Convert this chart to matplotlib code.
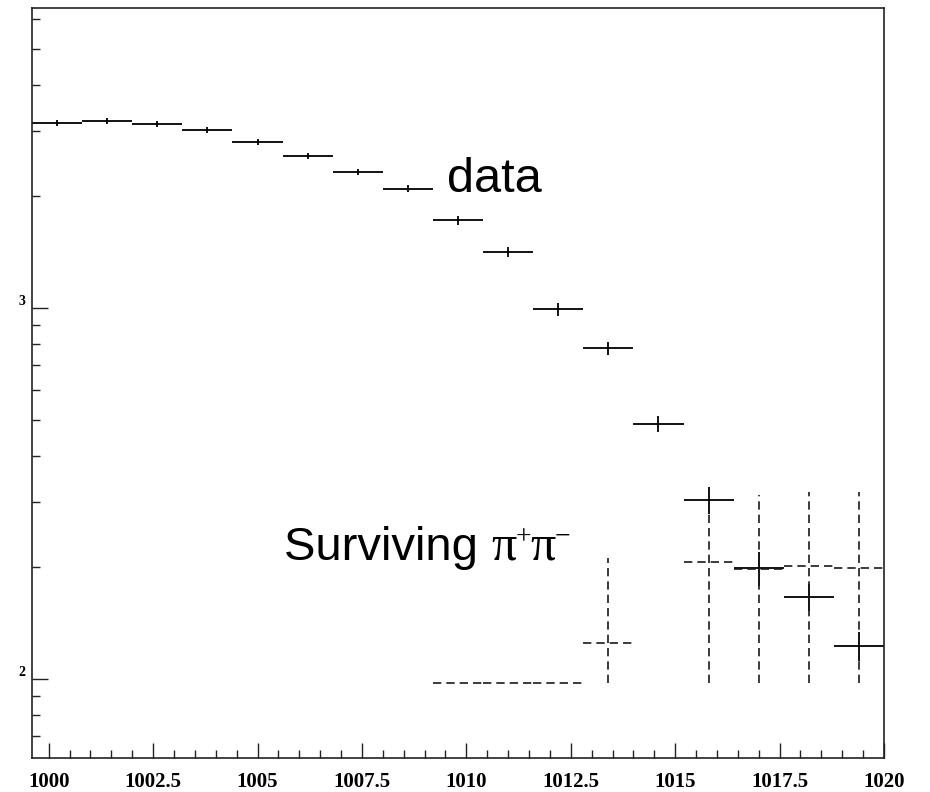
import matplotlib
matplotlib.use("Agg")
import matplotlib.pyplot as plt
from matplotlib.ticker import FixedLocator, FixedFormatter, MultipleLocator, LogLocator, NullFormatter

# ---- data ----
bin_centers = [1000.2, 1001.4, 1002.6, 1003.8, 1005.0, 1006.2, 1007.4, 1008.6, 1009.8,
               1011.0, 1012.2, 1013.4, 1014.6, 1015.8, 1017.0, 1018.2, 1019.4]
bin_half_width = 0.6
data_counts = [3159, 3198, 3133, 3018, 2797, 2573, 2326, 2097, 1723,
               1416, 992, 779, 488, 304, 199, 166, 123]
data_errors = [56, 56, 56, 55, 53, 51, 48, 46, 48,
               45, 40, 33, 24, 25, 21, 14, 11]

sur_centers = [1009.8, 1011.0, 1012.2, 1013.4, 1015.8, 1017.0, 1018.2, 1019.4]
sur_counts = [97.5, 97.5, 97.5, 125, 207, 198, 201, 199]
sur_err_low = [0, 0, 0, 27.5, 109.5, 100.5, 103.5, 101.5]
sur_err_high = [0, 0, 0, 87, 118, 116, 119, 120]

x_major_ticks = [1000, 1002.5, 1005, 1007.5, 1010, 1012.5, 1015, 1017.5, 1020]
x_tick_labels = ["1000", "1002.5", "1005", "1007.5", "1010", "1012.5", "1015", "1017.5", "1020"]
y_major_ticks = [100, 1000]
y_tick_labels = ["2", "3"]

W, H = 930, 792
fig = plt.figure(figsize=(W / 100, H / 100), dpi=100)
ax = fig.add_axes([32 / W, 34 / H, 852 / W, 750 / H])
ax.set_yscale("log")
ax.set_xlim(999.6, 1020.0)
ax.set_ylim(61.2, 6437)

ax.errorbar(bin_centers, data_counts, yerr=data_errors, xerr=bin_half_width,
            fmt="none", ecolor="black", elinewidth=1.3, capsize=0)
eb2 = ax.errorbar(sur_centers, sur_counts, yerr=[sur_err_low, sur_err_high],
                  xerr=bin_half_width, fmt="none", ecolor="#1a1a1a",
                  elinewidth=1.2, capsize=0)
for c in eb2[2]:
    c.set_linestyle((0, (5, 3)))

# axes styling
for s in ax.spines.values():
    s.set_linewidth(1.2)
    s.set_color("#222222")

ax.xaxis.set_major_locator(FixedLocator(x_major_ticks))
ax.xaxis.set_major_formatter(FixedFormatter(x_tick_labels))
ax.xaxis.set_minor_locator(MultipleLocator(0.5))
ax.yaxis.set_major_locator(FixedLocator(y_major_ticks))
ax.yaxis.set_major_formatter(FixedFormatter(y_tick_labels))
ax.yaxis.set_minor_locator(LogLocator(base=10, subs=(2, 3, 4, 5, 6, 7, 8, 9)))
ax.yaxis.set_minor_formatter(NullFormatter())

ax.tick_params(which="both", direction="in", top=False, right=False, color="#222222")
ax.tick_params(axis="x", which="major", length=11, width=1.0, pad=10)
ax.tick_params(axis="x", which="minor", length=5.8, width=1.0)
ax.tick_params(axis="y", which="major", length=11.5, width=1.0, pad=5)
ax.tick_params(axis="y", which="minor", length=5.8, width=1.0)

for lab in ax.get_xticklabels():
    lab.set_fontfamily("Liberation Serif")
    lab.set_fontweight("bold")
    lab.set_fontsize(15)
for lab in ax.get_yticklabels():
    lab.set_fontfamily("Liberation Serif")
    lab.set_fontweight("bold")
    lab.set_fontsize(10)
    lab.set_verticalalignment("bottom")

# annotations
fig.text(447 / W, 1 - 192 / H, "data", fontsize=35, family="Liberation Sans",
         va="baseline", ha="left")

t1 = fig.text(284 / W, 1 - 560 / H, "Surviving ", fontsize=34, family="Liberation Sans",
              va="baseline", ha="left")
fig.canvas.draw()
r = fig.canvas.get_renderer()
bb = t1.get_window_extent(r)
x = bb.x1
parts = [("π", 36, 0), ("+", 20, 16), ("π", 36, 0), ("−", 20, 16)]
for txt, fs, dy in parts:
    t = fig.text(x / W, (H - 560 + dy) / H, txt, fontsize=fs, family="Liberation Serif",
                 va="baseline", ha="left")
    fig.canvas.draw()
    x = t.get_window_extent(r).x1 - 1

fig.savefig("out.png", dpi=100)
